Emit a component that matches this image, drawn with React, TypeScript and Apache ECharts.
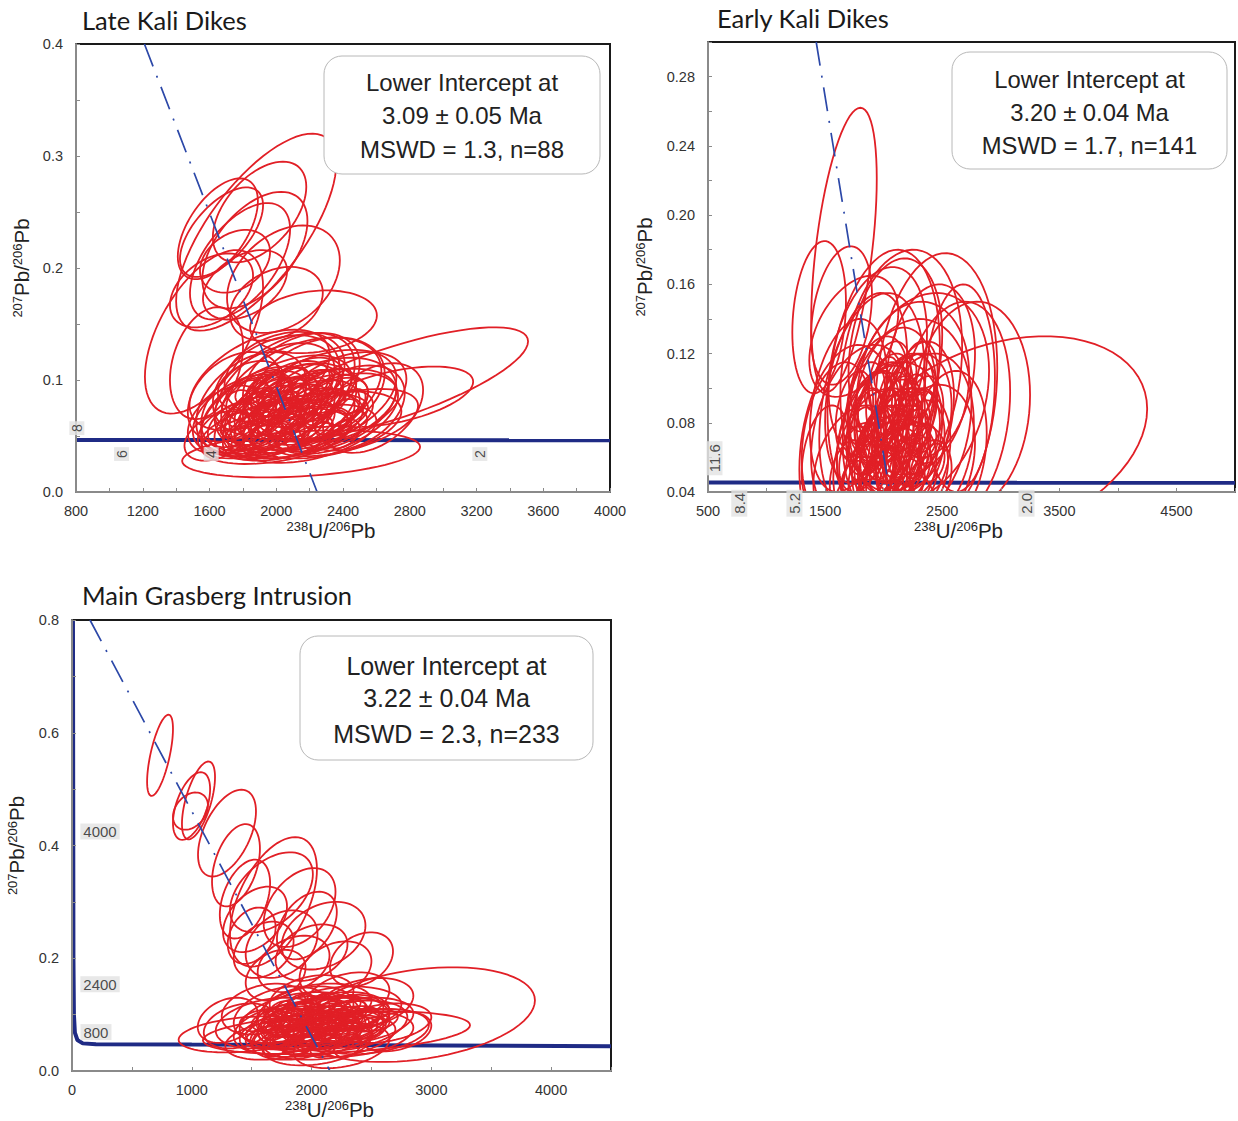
import React, { useEffect, useRef } from 'react';
import * as echarts from 'echarts';

// ---------- DATA ----------
const TITLES = ['Late Kali Dikes', 'Early Kali Dikes', 'Main Grasberg Intrusion'];

const INTERCEPT_TEXT = [
  ['Lower Intercept at', '3.09 ± 0.05 Ma', 'MSWD = 1.3, n=88'],
  ['Lower Intercept at', '3.20 ± 0.04 Ma', 'MSWD = 1.7, n=141'],
  ['Lower Intercept at', '3.22 ± 0.04 Ma', 'MSWD = 2.3, n=233'],
];

// ellipse: [centre 238U/206Pb, centre 207Pb/206Pb, half-width x, half-height y, correlation]
const LATE_ELLIPSES = [
  [1880, 0.232, 480, 0.088, 0.7], [1650, 0.235, 240, 0.045, 0.55], [1872, 0.216, 315, 0.052, 0.5],
  [1783, 0.206, 300, 0.052, 0.55], [2043, 0.19, 338, 0.048, 0.35], [1753, 0.206, 210, 0.028, 0.3],
  [1612, 0.18, 249, 0.033, 0.4], [2001, 0.168, 278, 0.033, 0.3], [1567, 0.143, 354, 0.073, 0.55],
  [2223, 0.152, 380, 0.028, 0.2], [1813, 0.185, 252, 0.031, 0.4], [1672, 0.232, 249, 0.04, 0.6],
  [1900, 0.25, 280, 0.045, 0.5], [1582, 0.115, 219, 0.05, 0.3],
  [2697, 0.097, 812, 0.05, 0.75], [2712, 0.085, 468, 0.027, 0.5], [2149, 0.034, 713, 0.021, 0.3],
  [2050, 0.09, 420, 0.052, 0.45], [2150, 0.088, 480, 0.05, 0.4], [1950, 0.085, 400, 0.048, 0.5],
  [2250, 0.082, 470, 0.045, 0.45], [2000, 0.078, 450, 0.044, 0.55], [2100, 0.075, 380, 0.04, 0.4],
  [1900, 0.072, 350, 0.04, 0.45], [2300, 0.078, 420, 0.042, 0.35], [2200, 0.07, 520, 0.04, 0.5],
  [1850, 0.08, 330, 0.045, 0.4], [2050, 0.068, 300, 0.036, 0.45], [2150, 0.065, 350, 0.035, 0.5],
  [1950, 0.062, 320, 0.033, 0.4], [2350, 0.07, 380, 0.036, 0.45], [2000, 0.095, 380, 0.045, 0.35],
  [2250, 0.092, 400, 0.046, 0.3], [1800, 0.07, 300, 0.035, 0.45], [2100, 0.058, 420, 0.03, 0.5],
  [2400, 0.085, 380, 0.04, 0.4], [1900, 0.1, 420, 0.045, 0.5], [2150, 0.1, 350, 0.042, 0.35],
  [2050, 0.06, 500, 0.028, 0.55], [1750, 0.085, 280, 0.04, 0.35], [2300, 0.06, 450, 0.03, 0.4],
  [2000, 0.05, 450, 0.025, 0.4], [2200, 0.052, 400, 0.026, 0.45], [1950, 0.072, 260, 0.03, 0.5],
  [2100, 0.082, 300, 0.032, 0.4], [2250, 0.075, 300, 0.03, 0.45], [1850, 0.058, 320, 0.028, 0.4],
  [2450, 0.075, 320, 0.038, 0.35], [1700, 0.065, 230, 0.03, 0.4], [2050, 0.105, 360, 0.038, 0.25],
  [2400, 0.062, 450, 0.03, 0.5], [2580, 0.075, 300, 0.04, 0.4], [1650, 0.05, 200, 0.022, 0.4],
  [1850, 0.065, 180, 0.02, 0.4], [1950, 0.058, 200, 0.022, 0.4], [2050, 0.072, 220, 0.025, 0.5],
  [2150, 0.062, 200, 0.02, 0.4], [2250, 0.068, 220, 0.024, 0.4], [2350, 0.08, 200, 0.022, 0.4],
  [1900, 0.085, 200, 0.022, 0.4], [2000, 0.088, 180, 0.02, 0.3], [2100, 0.095, 220, 0.022, 0.4],
  [2200, 0.085, 200, 0.024, 0.4], [2300, 0.09, 180, 0.02, 0.4], [1800, 0.078, 170, 0.022, 0.4],
  [1950, 0.048, 220, 0.018, 0.4], [2100, 0.05, 240, 0.02, 0.5], [2250, 0.056, 200, 0.02, 0.4],
  [2000, 0.065, 150, 0.018, 0.4], [2150, 0.078, 160, 0.018, 0.4], [1900, 0.07, 150, 0.02, 0.3],
  [2400, 0.07, 180, 0.02, 0.4], [2050, 0.082, 160, 0.02, 0.3], [1750, 0.06, 160, 0.02, 0.4],
  [2200, 0.1, 200, 0.02, 0.3], [1850, 0.095, 200, 0.022, 0.3], [2000, 0.075, 120, 0.015, 0.4],
  [2100, 0.068, 130, 0.015, 0.4], [1950, 0.09, 130, 0.015, 0.3], [2250, 0.078, 130, 0.015, 0.4],
  [1800, 0.05, 90, 0.012, 0.4], [1950, 0.051, 100, 0.011, 0.4], [2100, 0.049, 95, 0.012, 0.4],
  [2250, 0.05, 90, 0.012, 0.4], [2400, 0.052, 100, 0.013, 0.4], [1750, 0.06, 85, 0.011, 0.4],
  [1880, 0.061, 95, 0.012, 0.4], [2030, 0.06, 90, 0.011, 0.4], [2180, 0.059, 100, 0.012, 0.4],
  [2330, 0.061, 95, 0.012, 0.4], [2460, 0.06, 85, 0.012, 0.4], [1800, 0.07, 95, 0.012, 0.4],
  [1950, 0.071, 90, 0.012, 0.4], [2100, 0.07, 100, 0.013, 0.4], [2250, 0.069, 90, 0.012, 0.4],
  [2400, 0.071, 95, 0.012, 0.4], [1760, 0.08, 85, 0.011, 0.4], [1900, 0.081, 95, 0.012, 0.4],
  [2040, 0.079, 90, 0.012, 0.4], [2180, 0.08, 100, 0.012, 0.4], [2320, 0.08, 95, 0.012, 0.4],
  [2450, 0.081, 85, 0.011, 0.4], [1850, 0.09, 95, 0.012, 0.4], [2000, 0.091, 90, 0.012, 0.4],
  [2150, 0.09, 100, 0.012, 0.4], [2300, 0.089, 90, 0.011, 0.4], [1950, 0.098, 90, 0.011, 0.4],
  [2100, 0.099, 95, 0.012, 0.4], [2250, 0.098, 90, 0.011, 0.4],
];

const EARLY_ELLIPSES = [
  [1661, 0.18, 280, 0.082, 0.5], [1449, 0.141, 229, 0.044, 0.2], [1640, 0.142, 260, 0.04, 0.3],
  [1745, 0.13, 380, 0.035, 0.4], [3000, 0.07, 1250, 0.06, 0.3],
  [2150, 0.11, 520, 0.07, 0.2], [2450, 0.1, 520, 0.078, 0.15], [2000, 0.105, 480, 0.075, 0.25],
  [2300, 0.095, 600, 0.06, 0.25], [2600, 0.085, 480, 0.065, 0.2], [2750, 0.09, 500, 0.06, 0.1],
  [1900, 0.09, 450, 0.065, 0.3], [2200, 0.08, 550, 0.06, 0.2], [1800, 0.075, 420, 0.05, 0.3],
  [2050, 0.07, 450, 0.045, 0.25], [2350, 0.07, 420, 0.05, 0.2], [1950, 0.06, 380, 0.04, 0.3],
  [2150, 0.06, 420, 0.04, 0.25], [2400, 0.06, 380, 0.042, 0.2], [1750, 0.055, 350, 0.035, 0.3],
  [2000, 0.075, 300, 0.038, 0.3], [2250, 0.08, 330, 0.04, 0.25], [2100, 0.09, 350, 0.045, 0.2],
  [1900, 0.07, 300, 0.04, 0.3], [2300, 0.085, 300, 0.042, 0.25], [2050, 0.05, 400, 0.032, 0.3],
  [2200, 0.05, 350, 0.03, 0.25], [1850, 0.1, 350, 0.055, 0.35], [2400, 0.11, 380, 0.05, 0.2],
  [1700, 0.09, 330, 0.05, 0.3], [1600, 0.07, 300, 0.045, 0.25], [2550, 0.065, 330, 0.045, 0.2],
  [2100, 0.12, 400, 0.055, 0.2], [2250, 0.1, 480, 0.05, 0.15], [1950, 0.115, 420, 0.055, 0.3],
  [2650, 0.1, 300, 0.06, 0.1], [1500, 0.06, 200, 0.03, 0.3], [2000, 0.085, 250, 0.03, 0.3],
  [2150, 0.07, 250, 0.03, 0.3], [1950, 0.095, 260, 0.035, 0.3], [2200, 0.09, 260, 0.03, 0.2],
  [2050, 0.06, 260, 0.025, 0.3], [1700, 0.065, 420, 0.06, 0.2], [2100, 0.075, 200, 0.03, 0.3],
  [1900, 0.08, 200, 0.03, 0.3], [2300, 0.065, 220, 0.028, 0.3], [2000, 0.055, 220, 0.02, 0.3],
  [1800, 0.06, 180, 0.02, 0.3], [1900, 0.05, 200, 0.02, 0.3], [2000, 0.065, 200, 0.025, 0.3],
  [2100, 0.055, 220, 0.022, 0.3], [2200, 0.065, 200, 0.025, 0.2], [2300, 0.075, 180, 0.025, 0.2],
  [1850, 0.075, 170, 0.025, 0.3], [1950, 0.085, 180, 0.025, 0.3], [2050, 0.095, 200, 0.025, 0.3],
  [2150, 0.085, 180, 0.022, 0.2], [2250, 0.095, 180, 0.025, 0.2], [2350, 0.085, 160, 0.022, 0.2],
  [1750, 0.085, 160, 0.025, 0.3], [2000, 0.045, 200, 0.02, 0.3], [2150, 0.045, 200, 0.02, 0.3],
  [1900, 0.065, 130, 0.018, 0.3], [2050, 0.078, 130, 0.018, 0.3], [2200, 0.078, 130, 0.018, 0.3],
  [1950, 0.072, 120, 0.016, 0.3], [2100, 0.065, 120, 0.016, 0.3], [2400, 0.05, 180, 0.02, 0.2],
  [1700, 0.05, 160, 0.02, 0.3], [2050, 0.105, 180, 0.022, 0.3], [2250, 0.055, 150, 0.018, 0.3],
  [1850, 0.095, 160, 0.02, 0.3], [2300, 0.105, 160, 0.022, 0.2],
  [1750, 0.048, 110, 0.01, 0.3], [1900, 0.047, 100, 0.011, 0.3], [2050, 0.049, 110, 0.01, 0.3],
  [2200, 0.048, 105, 0.011, 0.3], [2350, 0.047, 100, 0.01, 0.3], [1820, 0.058, 110, 0.011, 0.3],
  [1970, 0.057, 100, 0.01, 0.3], [2120, 0.059, 110, 0.011, 0.3], [2270, 0.058, 105, 0.01, 0.3],
  [2420, 0.057, 100, 0.011, 0.3], [1750, 0.068, 100, 0.01, 0.3], [1900, 0.069, 110, 0.011, 0.3],
  [2050, 0.067, 105, 0.01, 0.3], [2200, 0.068, 110, 0.011, 0.3], [2350, 0.069, 100, 0.01, 0.3],
  [1820, 0.078, 105, 0.011, 0.3], [1970, 0.079, 110, 0.01, 0.3], [2120, 0.077, 100, 0.011, 0.3],
  [2270, 0.078, 110, 0.01, 0.3], [1880, 0.088, 100, 0.011, 0.3], [2030, 0.089, 110, 0.01, 0.3],
  [2180, 0.087, 105, 0.011, 0.3], [2330, 0.088, 100, 0.01, 0.3], [1950, 0.098, 110, 0.011, 0.3],
  [2100, 0.099, 100, 0.01, 0.3], [2250, 0.097, 105, 0.011, 0.3], [2020, 0.108, 100, 0.01, 0.3],
  [2170, 0.107, 110, 0.011, 0.3],
];

const MAIN_ELLIPSES = [
  [735, 0.56, 108, 0.072, 0.65], [998, 0.47, 155, 0.06, 0.5], [1056, 0.48, 138, 0.069, 0.6],
  [989, 0.461, 146, 0.033, 0.3], [1294, 0.422, 242, 0.077, 0.5], [1369, 0.365, 200, 0.073, 0.4],
  [1682, 0.3, 363, 0.115, 0.5], [1444, 0.305, 210, 0.07, 0.4], [1665, 0.317, 346, 0.071, 0.45],
  [1961, 0.258, 250, 0.06, 0.4], [1528, 0.269, 267, 0.058, 0.4], [2417, 0.198, 263, 0.048, 0.3],
  [1750, 0.225, 300, 0.06, 0.3], [1600, 0.215, 250, 0.05, 0.3], [2000, 0.21, 300, 0.05, 0.3],
  [1850, 0.19, 300, 0.05, 0.3], [2200, 0.18, 300, 0.05, 0.3], [1700, 0.17, 250, 0.045, 0.3],
  [2100, 0.24, 350, 0.06, 0.3], [1900, 0.29, 300, 0.07, 0.4], [1500, 0.24, 200, 0.05, 0.3],
  [2884, 0.1, 981, 0.084, 0.3], [2208, 0.068, 1115, 0.038, 0.35], [1450, 0.065, 560, 0.032, 0.3],
  [1900, 0.09, 500, 0.05, 0.3], [2100, 0.085, 550, 0.048, 0.3], [2300, 0.08, 500, 0.045, 0.35],
  [1800, 0.075, 450, 0.045, 0.3], [2000, 0.07, 600, 0.045, 0.3], [2200, 0.095, 450, 0.045, 0.25],
  [2400, 0.09, 450, 0.04, 0.3], [1950, 0.105, 400, 0.045, 0.3], [2150, 0.06, 550, 0.04, 0.35],
  [1750, 0.1, 400, 0.05, 0.3], [2500, 0.07, 480, 0.04, 0.3], [2050, 0.115, 450, 0.04, 0.25],
  [1650, 0.085, 450, 0.045, 0.3], [2250, 0.11, 500, 0.04, 0.2], [1900, 0.06, 400, 0.04, 0.3],
  [2350, 0.065, 500, 0.04, 0.3], [2000, 0.095, 300, 0.035, 0.3], [2150, 0.075, 300, 0.035, 0.3],
  [1850, 0.08, 300, 0.035, 0.3], [2300, 0.1, 300, 0.035, 0.3], [2050, 0.05, 450, 0.04, 0.3],
  [2250, 0.045, 400, 0.04, 0.3], [1700, 0.055, 420, 0.035, 0.3], [2600, 0.085, 400, 0.035, 0.3],
  [1600, 0.11, 350, 0.045, 0.3], [2450, 0.12, 400, 0.045, 0.3], [1400, 0.08, 300, 0.04, 0.3],
  [2700, 0.07, 300, 0.035, 0.3], [1300, 0.09, 250, 0.04, 0.3], [2000, 0.13, 350, 0.04, 0.3],
  [2300, 0.13, 350, 0.045, 0.3], [1950, 0.08, 200, 0.03, 0.3], [2100, 0.09, 200, 0.03, 0.3],
  [2200, 0.07, 200, 0.03, 0.3], [2150, 0.1, 500, 0.03, 0.3], [1800, 0.09, 220, 0.03, 0.3],
  [1700, 0.07, 250, 0.022, 0.3], [1800, 0.06, 280, 0.022, 0.3], [1900, 0.075, 300, 0.025, 0.3],
  [2000, 0.085, 280, 0.022, 0.3], [2100, 0.07, 300, 0.025, 0.3], [2200, 0.08, 280, 0.022, 0.3],
  [2300, 0.075, 250, 0.022, 0.3], [2400, 0.08, 250, 0.025, 0.3], [1750, 0.09, 250, 0.022, 0.3],
  [1850, 0.1, 250, 0.022, 0.3], [1950, 0.055, 300, 0.02, 0.3], [2050, 0.105, 280, 0.022, 0.3],
  [2150, 0.095, 250, 0.02, 0.3], [2250, 0.06, 250, 0.02, 0.3], [1650, 0.06, 200, 0.02, 0.3],
  [2350, 0.095, 220, 0.02, 0.3], [2000, 0.065, 200, 0.018, 0.3], [1900, 0.09, 200, 0.018, 0.3],
  [2100, 0.08, 200, 0.018, 0.3], [2200, 0.11, 250, 0.02, 0.3], [1800, 0.08, 180, 0.018, 0.3],
  [2050, 0.045, 300, 0.018, 0.3], [2250, 0.09, 180, 0.018, 0.3], [1950, 0.115, 250, 0.018, 0.3],
  [2500, 0.09, 220, 0.02, 0.3], [1600, 0.09, 200, 0.02, 0.3],
  [1700, 0.045, 110, 0.02, 0.3], [1900, 0.046, 120, 0.019, 0.3], [2100, 0.044, 110, 0.02, 0.3],
  [2300, 0.045, 115, 0.02, 0.3], [1600, 0.06, 110, 0.019, 0.3], [1800, 0.061, 120, 0.02, 0.3],
  [2000, 0.059, 110, 0.02, 0.3], [2200, 0.06, 115, 0.019, 0.3], [2400, 0.061, 110, 0.02, 0.3],
  [1700, 0.075, 120, 0.02, 0.3], [1900, 0.076, 110, 0.019, 0.3], [2100, 0.074, 115, 0.02, 0.3],
  [2300, 0.075, 110, 0.02, 0.3], [2500, 0.076, 120, 0.019, 0.3], [1650, 0.09, 110, 0.02, 0.3],
  [1850, 0.091, 115, 0.02, 0.3], [2050, 0.089, 120, 0.019, 0.3], [2250, 0.09, 110, 0.02, 0.3],
  [2450, 0.091, 115, 0.02, 0.3], [1750, 0.105, 110, 0.019, 0.3], [1950, 0.106, 120, 0.02, 0.3],
  [2150, 0.104, 110, 0.02, 0.3], [2350, 0.105, 115, 0.019, 0.3], [1900, 0.118, 110, 0.018, 0.3],
  [2100, 0.119, 115, 0.019, 0.3], [2300, 0.117, 110, 0.018, 0.3],
];

// concordia curves (238U/206Pb, 207Pb/206Pb)
const LATE_CONCORDIA = [[800, 0.0465], [4000, 0.0462]];
const EARLY_CONCORDIA = [[500, 0.0455], [5000, 0.0453]];
const MAIN_CONCORDIA = [
  [8, 0.8], [10, 0.5], [12, 0.2], [16, 0.1], [24, 0.068], [45, 0.055], [90, 0.049],
  [200, 0.0475], [1000, 0.0468], [2500, 0.0458], [4500, 0.044],
];

// discordia (regression) lines
const LATE_DISCORDIA = [[1210, 0.4], [2245, 0.0]];
const EARLY_DISCORDIA = [[1424, 0.3], [2051, 0.04]];
const MAIN_DISCORDIA = [[150, 0.8], [2154, 0.0]];

// age labels on the concordia (Ma) and their anchor positions
const LATE_AGES = [{ name: '8', value: [805, 0.057] }, { name: '6', value: [1073, 0.0339] }, { name: '4', value: [1610, 0.0339] }, { name: '2', value: [3220, 0.0339] }];
const EARLY_AGES = [{ name: '11.6', value: [555, 0.0595] }, { name: '8.4', value: [767, 0.0335] }, { name: '5.2', value: [1238, 0.0335] }, { name: '2.0', value: [3220, 0.0335] }];
const MAIN_AGES = [{ name: '4000', value: [234, 0.425] }, { name: '2400', value: [234, 0.154] }, { name: '800', value: [200, 0.069] }];

// ---------- LAYOUT ----------
const GRIDS = [
  { left: 76, top: 44, width: 534, height: 448 },
  { left: 708, top: 42, width: 531, height: 450 },
  { left: 72, top: 620, width: 539, height: 452 },
];
const TITLE_POS = [[82, 7], [717, 5], [82, 582]];
const BOXES = [
  { x: 324, y: 56, w: 276, h: 118, lines: [82, 115, 149], fs: 24 },
  { x: 952, y: 52, w: 275, h: 117, lines: [79, 112, 145], fs: 23.8 },
  { x: 300, y: 636, w: 293, h: 124, lines: [666, 698, 734], fs: 25 },
];

const SANS = '"Liberation Sans", Arial, sans-serif';
const RED = '#e11f26';
const NAVY = '#1f2b85';
const DISC = '#2c48a8';

const renderEllipse = (_params: any, api: any) => {
  const cx = api.value(0), cy = api.value(1), sx = api.value(2), sy = api.value(3), r = api.value(4);
  const k = Math.sqrt(1 - r * r);
  const pts: number[][] = [];
  const N = 72;
  for (let i = 0; i < N; i++) {
    const t = (i / N) * Math.PI * 2;
    pts.push(api.coord([cx + sx * Math.cos(t), cy + sy * (r * Math.cos(t) + k * Math.sin(t))]));
  }
  return {
    type: 'polygon',
    shape: { points: pts },
    style: { fill: 'none', stroke: RED, lineWidth: 1.8 },
  };
};

const axisNameRich = {
  s: { fontSize: 13, lineHeight: 13, verticalAlign: 'top', fontFamily: SANS, color: '#222' },
  n: { fontSize: 20.5, lineHeight: 21, verticalAlign: 'bottom', fontFamily: SANS, color: '#222' },
};

function xAxisCfg(i: number, min: number, max: number, interval: number, show: (v: number) => boolean, shift: number) {
  return {
    type: 'value', gridIndex: i, min, max, interval,
    name: '{s|238}{n|U/}{s|206}{n|Pb}', nameLocation: 'middle', nameGap: 28,
    nameTextStyle: { rich: axisNameRich, padding: [0, shift, 0, 0] },
    axisLine: { show: true, onZero: false, lineStyle: { color: '#8a8a8a', width: 2 } },
    axisTick: { show: true, inside: true, length: 4, lineStyle: { color: '#8a8a8a', width: 1 } },
    axisLabel: {
      interval: 0, margin: 11, fontSize: 14.5, color: '#333', fontFamily: SANS,
      formatter: (v: number) => (show(v) ? String(Math.round(v)) : ''),
    },
    splitLine: { show: false }, z: 5,
  };
}

function yAxisCfg(i: number, min: number, max: number, interval: number, show: (v: number) => boolean, digits: number, gap: number) {
  return {
    type: 'value', gridIndex: i, min, max, interval,
    name: '{s|207}{n|Pb/}{s|206}{n|Pb}', nameLocation: 'middle', nameGap: gap, nameRotate: 90,
    nameTextStyle: { rich: axisNameRich },
    axisLine: { show: true, onZero: false, lineStyle: { color: '#8a8a8a', width: 2 } },
    axisTick: { show: true, inside: true, length: 4, lineStyle: { color: '#8a8a8a', width: 1 } },
    axisLabel: {
      interval: 0, margin: 13, fontSize: 14.5, color: '#333', fontFamily: SANS,
      formatter: (v: number) => (show(v) ? v.toFixed(digits) : ''),
    },
    splitLine: { show: false }, z: 5,
  };
}

function panelSeries(i: number, conc: number[][], ell: number[][], disc: number[][], ages: any[], rotate: number, ageFont: number) {
  return [
    {
      type: 'line', xAxisIndex: i, yAxisIndex: i, data: conc, symbol: 'none', clip: false,
      lineStyle: { color: NAVY, width: 4 }, z: 2, silent: true,
    },
    {
      type: 'custom', xAxisIndex: i, yAxisIndex: i, data: ell, renderItem: renderEllipse,
      clip: true, z: 3, silent: true, encode: { x: 0, y: 1 },
    },
    {
      type: 'line', xAxisIndex: i, yAxisIndex: i, data: disc, symbol: 'none', clip: true,
      lineStyle: { color: DISC, width: 1.7, type: [24, 10, 2, 10] }, z: 4, silent: true,
    },
    {
      type: 'scatter', xAxisIndex: i, yAxisIndex: i, data: ages, symbolSize: 0.1, clip: false,
      itemStyle: { color: 'rgba(0,0,0,0)' }, z: 6, silent: true,
      label: {
        show: true, position: 'inside', formatter: '{b}', rotate,
        fontSize: ageFont, fontFamily: SANS, color: '#222',
        backgroundColor: '#e2e2e2', padding: [1, 3, 0, 3],
      },
    },
  ];
}

export default function App() {
  const ref = useRef<HTMLDivElement>(null);
  useEffect(() => {
    if (!ref.current) return;
    const chart = echarts.init(ref.current, undefined, { renderer: 'svg' });

    const graphic: any[] = [];
    TITLES.forEach((t, i) => {
      graphic.push({
        type: 'text', x: TITLE_POS[i][0], y: TITLE_POS[i][1], z: 20,
        style: { text: t, fontSize: 25.5, fontFamily: 'Lato, "Open Sans", sans-serif', fill: '#1a1a1a' },
      });
    });
    BOXES.forEach((b, i) => {
      graphic.push({
        type: 'rect', z: 20,
        shape: { x: b.x, y: b.y, width: b.w, height: b.h, r: 18 },
        style: { fill: '#fff', stroke: '#b8b8b8', lineWidth: 1 },
      });
      INTERCEPT_TEXT[i].forEach((line, j) => {
        graphic.push({
          type: 'text', z: 21, x: b.x + b.w / 2, y: b.lines[j],
          style: {
            text: line, fontSize: b.fs, fontFamily: SANS, fill: '#222',
            align: 'center', verticalAlign: 'middle', textAlign: 'center', textVerticalAlign: 'middle',
          },
        });
      });
    });

    const option: any = {
      animation: false,
      grid: GRIDS.map((g) => ({ ...g, show: true, borderColor: '#1a1a1a', borderWidth: 2, backgroundColor: 'transparent', z: 0 })),
      xAxis: [
        xAxisCfg(0, 800, 4000, 200, (v) => Math.round(v - 800) % 400 === 0, 24),
        xAxisCfg(1, 500, 5000, 500, (v) => Math.round(v) % 1000 === 500, 26),
        xAxisCfg(2, 0, 4500, 500, (v) => Math.round(v) % 1000 === 0, 24),
      ],
      yAxis: [
        yAxisCfg(0, 0, 0.4, 0.05, (v) => Math.round(v * 100) % 10 === 0, 1, 44),
        yAxisCfg(1, 0.04, 0.3, 0.02, (v) => Math.round(v * 100) % 4 === 0 && v < 0.295, 2, 53),
        yAxisCfg(2, 0, 0.8, 0.1, (v) => Math.round(v * 10) % 2 === 0, 1, 45),
      ],
      series: [
        ...panelSeries(0, LATE_CONCORDIA, LATE_ELLIPSES, LATE_DISCORDIA, LATE_AGES, 90, 14),
        ...panelSeries(1, EARLY_CONCORDIA, EARLY_ELLIPSES, EARLY_DISCORDIA, EARLY_AGES, 90, 15),
        ...panelSeries(2, MAIN_CONCORDIA, MAIN_ELLIPSES, MAIN_DISCORDIA, MAIN_AGES, 0, 15),
      ],
      graphic,
    };
    chart.setOption(option);
    return () => chart.dispose();
  }, []);
  return <div ref={ref} style={{ position: 'absolute', left: 0, top: 0, width: 1238, height: 1121, background: '#fff' }} />;
}
